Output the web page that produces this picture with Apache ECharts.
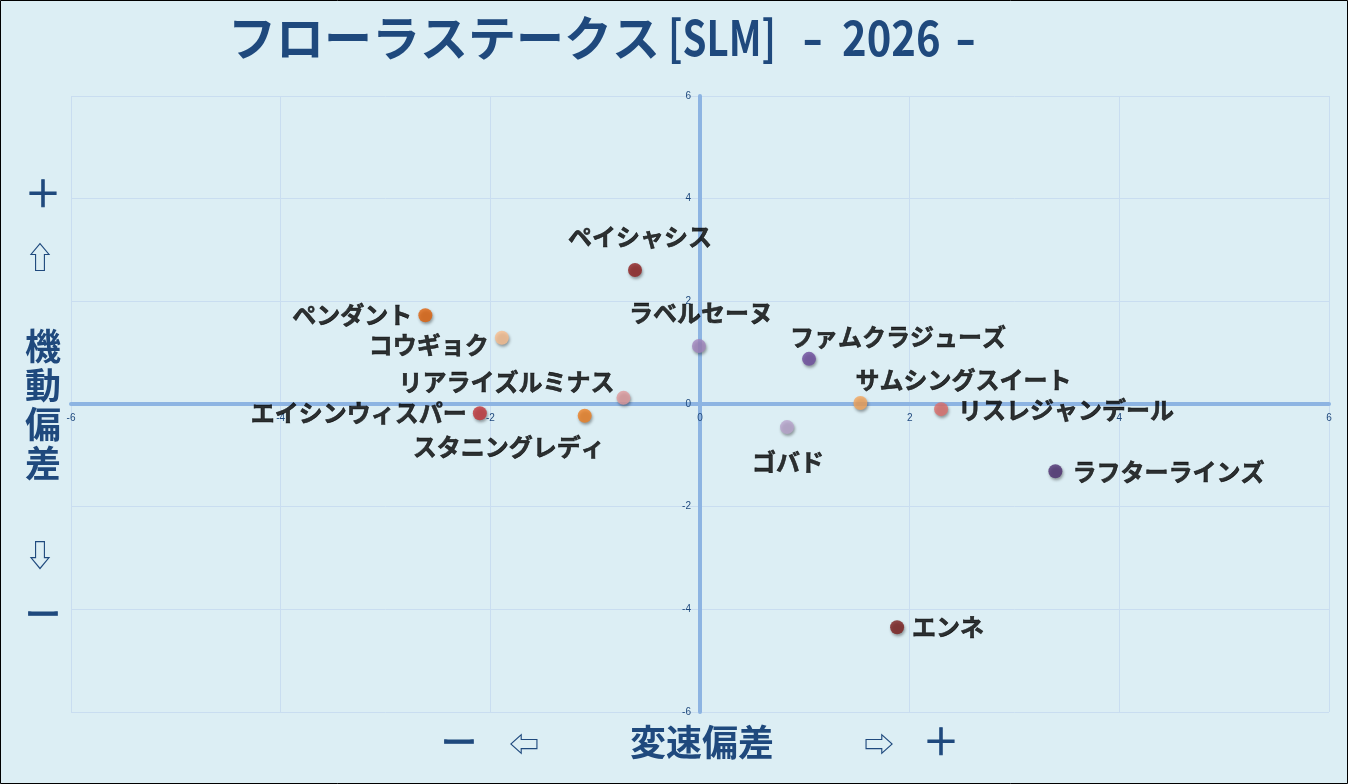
<!DOCTYPE html>
<html><head><meta charset="utf-8">
<script src="https://cdn.jsdelivr.net/npm/echarts@6/dist/echarts.min.js"></script>
<style>html,body{margin:0;padding:0;background:#DCEEF4;}#c{width:1348px;height:784px;}</style>
</head><body><div id="c"></div>
<script>
const horses = ['ペイシャシス','ペンダント','コウギョク','ラベルセーヌ','リアライズルミナス','エイシンウィスパー','スタニングレディ','ファムクラジューズ','サムシングスイート','リスレジャンデール','ゴバド','ラフターラインズ','エンネ'];
const speedDev = [-0.62,-2.62,-1.89,-0.01,-0.73,-2.10,-1.10,1.04,1.53,2.30,0.83,3.39,1.88];
const mobilityDev = [2.61,1.73,1.29,1.13,0.12,-0.18,-0.23,0.88,0.02,-0.10,-0.45,-1.31,-4.35];
const xTicks = [-6,-4,-2,0,2,4,6];
const yTicks = [-6,-4,-2,0,2,4,6];

const pointColors = ['#8E1F1F','#E0620A','#F9BE8E','#A286BE','#E09A9C','#C23438','#EE8022','#6E4C9E','#F5A65C','#DD6E6C','#B9A5CD','#4E3070','#7A1D1D'];
const labelStyle = {
  'ペイシャシス':{position:'top',distance:14,offset:[5,0]},
  'ペンダント':{position:'left',distance:6,offset:[0,0]},
  'コウギョク':{position:'left',distance:6,offset:[0,7]},
  'ラベルセーヌ':{position:'top',distance:14,offset:[2,0]},
  'リアライズルミナス':{position:'left',distance:2,offset:[0,-16]},
  'エイシンウィスパー':{position:'left',distance:6,offset:[0,0]},
  'スタニングレディ':{position:'left',distance:5,offset:[32,31]},
  'ファムクラジューズ':{position:'right',distance:5,offset:[-31,-22]},
  'サムシングスイート':{position:'right',distance:5,offset:[-17,-23]},
  'リスレジャンデール':{position:'right',distance:10,offset:[0,1]},
  'ゴバド':{position:'bottom',distance:16,offset:[1,0]},
  'ラフターラインズ':{position:'right',distance:10,offset:[0,1]},
  'エンネ':{position:'right',distance:8,offset:[0,0]}
};

const chart = echarts.init(document.getElementById('c'));
const navy = '#1F497D';
const jp = '"Noto Sans CJK JP", "Noto Sans", sans-serif';
const data = horses.map((n,i)=>({
  name:n, value:[speedDev[i], mobilityDev[i]],
  itemStyle:{color:pointColors[i]},
  label:Object.assign({show:true, formatter:n}, labelStyle[n])
}));
function gt(text,x,y,size,weight,extra){
  const o = {type:'text', x:x, y:y, style:{text:text, fill:navy, font:(weight||'bold')+' '+size+'px '+jp, textAlign:'center', textVerticalAlign:'middle'}};
  if(extra) Object.assign(o.style, extra);
  return o;
}
function title(text,x,sx){
  return {type:'text',x:x,y:14,scaleX:sx,style:{text:text,fill:navy,font:'bold 48px '+jp}};
}
const gridW = 1348-71-19, gridH = 784-96-72;
chart.setOption({
  backgroundColor:'#DCEEF4',
  animation:false,
  grid:{left:71,right:19,top:96,bottom:72},
  xAxis:{type:'value',min:-6,max:6,interval:2,position:'bottom',offset:-gridH/2,
    axisLine:{onZero:false,lineStyle:{color:'#8DB4E2',width:4}},
    axisTick:{show:false},
    axisLabel:{fontSize:10,color:navy,margin:9,showMinLabel:true,showMaxLabel:true,
      formatter:v=>xTicks.includes(v)?String(v):''},
    splitLine:{show:true,lineStyle:{color:'#C9DDF0',width:1}}},
  yAxis:{type:'value',min:-6,max:6,interval:2,position:'left',offset:-gridW/2,
    axisLine:{onZero:false,lineStyle:{color:'#8DB4E2',width:4}},
    axisTick:{show:false},
    axisLabel:{fontSize:10,color:navy,margin:9,showMinLabel:true,showMaxLabel:true,
      formatter:v=>yTicks.includes(v)?String(v):''},
    splitLine:{show:true,lineStyle:{color:'#C9DDF0',width:1}}},
  series:[{
    type:'scatter', symbolSize:14, data:data,
    itemStyle:{shadowBlur:3,shadowColor:'rgba(0,0,0,0.45)',shadowOffsetY:2,shadowOffsetX:1},
    label:{fontSize:24,fontWeight:'bold',color:'#000',fontFamily:jp,textBorderColor:'#000',textBorderWidth:0.6},
    emphasis:{disabled:true}
  }],
  graphic:[
    {type:'text',left:228,top:14,style:{text:'フローラステークス',fill:navy,font:'bold 48px '+jp}},
    title('[SLM]',668,0.8),
    title('-',802,1.2),
    title('2026',842,0.87),
    title('-',955,1.2),
    gt('＋',43,193,36,'normal',{stroke:navy,lineWidth:1}),
    gt('⇧',40,257,30,'normal'),
    gt('機\n動\n偏\n差',43,405,36,'bold',{lineHeight:39}),
    gt('⇩',40,555,30,'normal'),
    gt('ー',43,614,36,'normal',{stroke:navy,lineWidth:1}),
    gt('ー',459,742,36,'normal',{stroke:navy,lineWidth:1}),
    gt('⇦',524,744,30,'normal'),
    gt('変速偏差',702,742,36,'bold'),
    gt('⇨',879,744,30,'normal'),
    gt('＋',941,741,36,'normal',{stroke:navy,lineWidth:1}),
    {type:'rect',shape:{x:0.5,y:0.5,width:1347,height:783},style:{fill:'none',stroke:'#000',lineWidth:1},z:100}
  ]
});
</script></body></html>
